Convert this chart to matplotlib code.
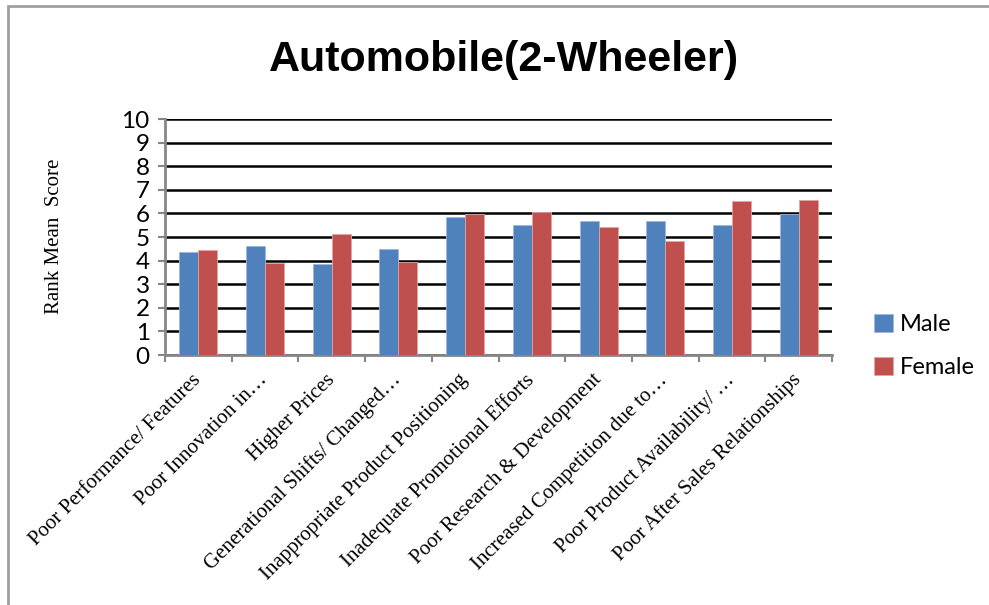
import numpy as np
import matplotlib
matplotlib.use('Agg')
import matplotlib.pyplot as plt
from matplotlib.patches import Rectangle

# data
categories = ['Poor Performance/ Features', 'Poor Innovation in…', 'Higher Prices',
              'Generational Shifts/ Changed…', 'Inappropriate Product Positioning',
              'Inadequate Promotional Efforts', 'Poor Research & Development',
              'Increased Competition due to…', 'Poor Product Availability/ …',
              'Poor After Sales Relationships']
male = [4.35, 4.60, 3.87, 4.49, 5.83, 5.52, 5.66, 5.66, 5.52, 5.97]
female = [4.46, 3.90, 5.11, 3.95, 5.99, 6.06, 5.44, 4.82, 6.54, 6.57]
yticks = list(range(0, 11))

W, H = 989, 605
fig = plt.figure(figsize=(W / 100, H / 100), dpi=100)
ax = fig.add_axes([165 / W, 1 - 355 / H, (832 - 165) / W, (355 - 119) / H])

x = np.arange(len(categories))
bw = 0.285
ax.bar(x - bw / 2, male, bw, color='#4F81BD', edgecolor='#9DB9DE', linewidth=0.6, label='Male', zorder=3)
ax.bar(x + bw / 2, female, bw, color='#C0504D', edgecolor='#E3A3A1', linewidth=0.6, label='Female', zorder=3)

ax.set_xlim(-0.5, len(categories) - 0.5)
ax.set_ylim(0, 10)
ax.set_yticks(yticks)
ax.set_yticklabels([str(t) for t in yticks], fontsize=17.5, family='Lato')
ax.yaxis.grid(True, color='black', linewidth=1.8, zorder=1)
ax.set_axisbelow(True)

# category boundary ticks
ax.set_xticks(np.arange(-0.5, len(categories), 1.0))
ax.set_xticklabels([])
ax.set_xticks(x, minor=True)
ax.set_xticklabels(categories, minor=True, rotation=45, ha='right', va='center',
                   rotation_mode='anchor', fontsize=15, family='Liberation Serif')
ax.tick_params(axis='x', which='minor', length=0, pad=16)
ax.tick_params(axis='x', which='major', length=5, width=1.5, color='#868686', direction='out')
ax.tick_params(axis='y', length=5, width=1.5, color='#868686', direction='out', pad=6)

for s in ['top', 'right']:
    ax.spines[s].set_visible(False)
for s in ['left', 'bottom']:
    ax.spines[s].set_color('#868686')
    ax.spines[s].set_linewidth(2)

fig.text(504 / W, 1 - 60 / H, 'Automobile(2-Wheeler)', ha='center', va='center',
         fontsize=31, fontweight='bold', family='Liberation Sans')
fig.text(55 / W, 1 - 236 / H, 'Rank Mean  Score', rotation=90, ha='center', va='center',
         fontsize=15, family='Liberation Serif')

h, l = ax.get_legend_handles_labels()
fig.legend(h, l, loc='center left', bbox_to_anchor=(853 / W, 1 - 346 / H), frameon=False,
           prop={'family': 'Lato', 'size': 17}, handlelength=0.8, handleheight=0.8,
           handletextpad=0.3, labelspacing=0.9)

# outer chart border
fig.patches.append(Rectangle((8 / W, -0.1), 1.2, 1.1 - 6 / H, transform=fig.transFigure,
                             fill=False, edgecolor='#A0A0A0', linewidth=2))

fig.savefig('out.png', dpi=100)
